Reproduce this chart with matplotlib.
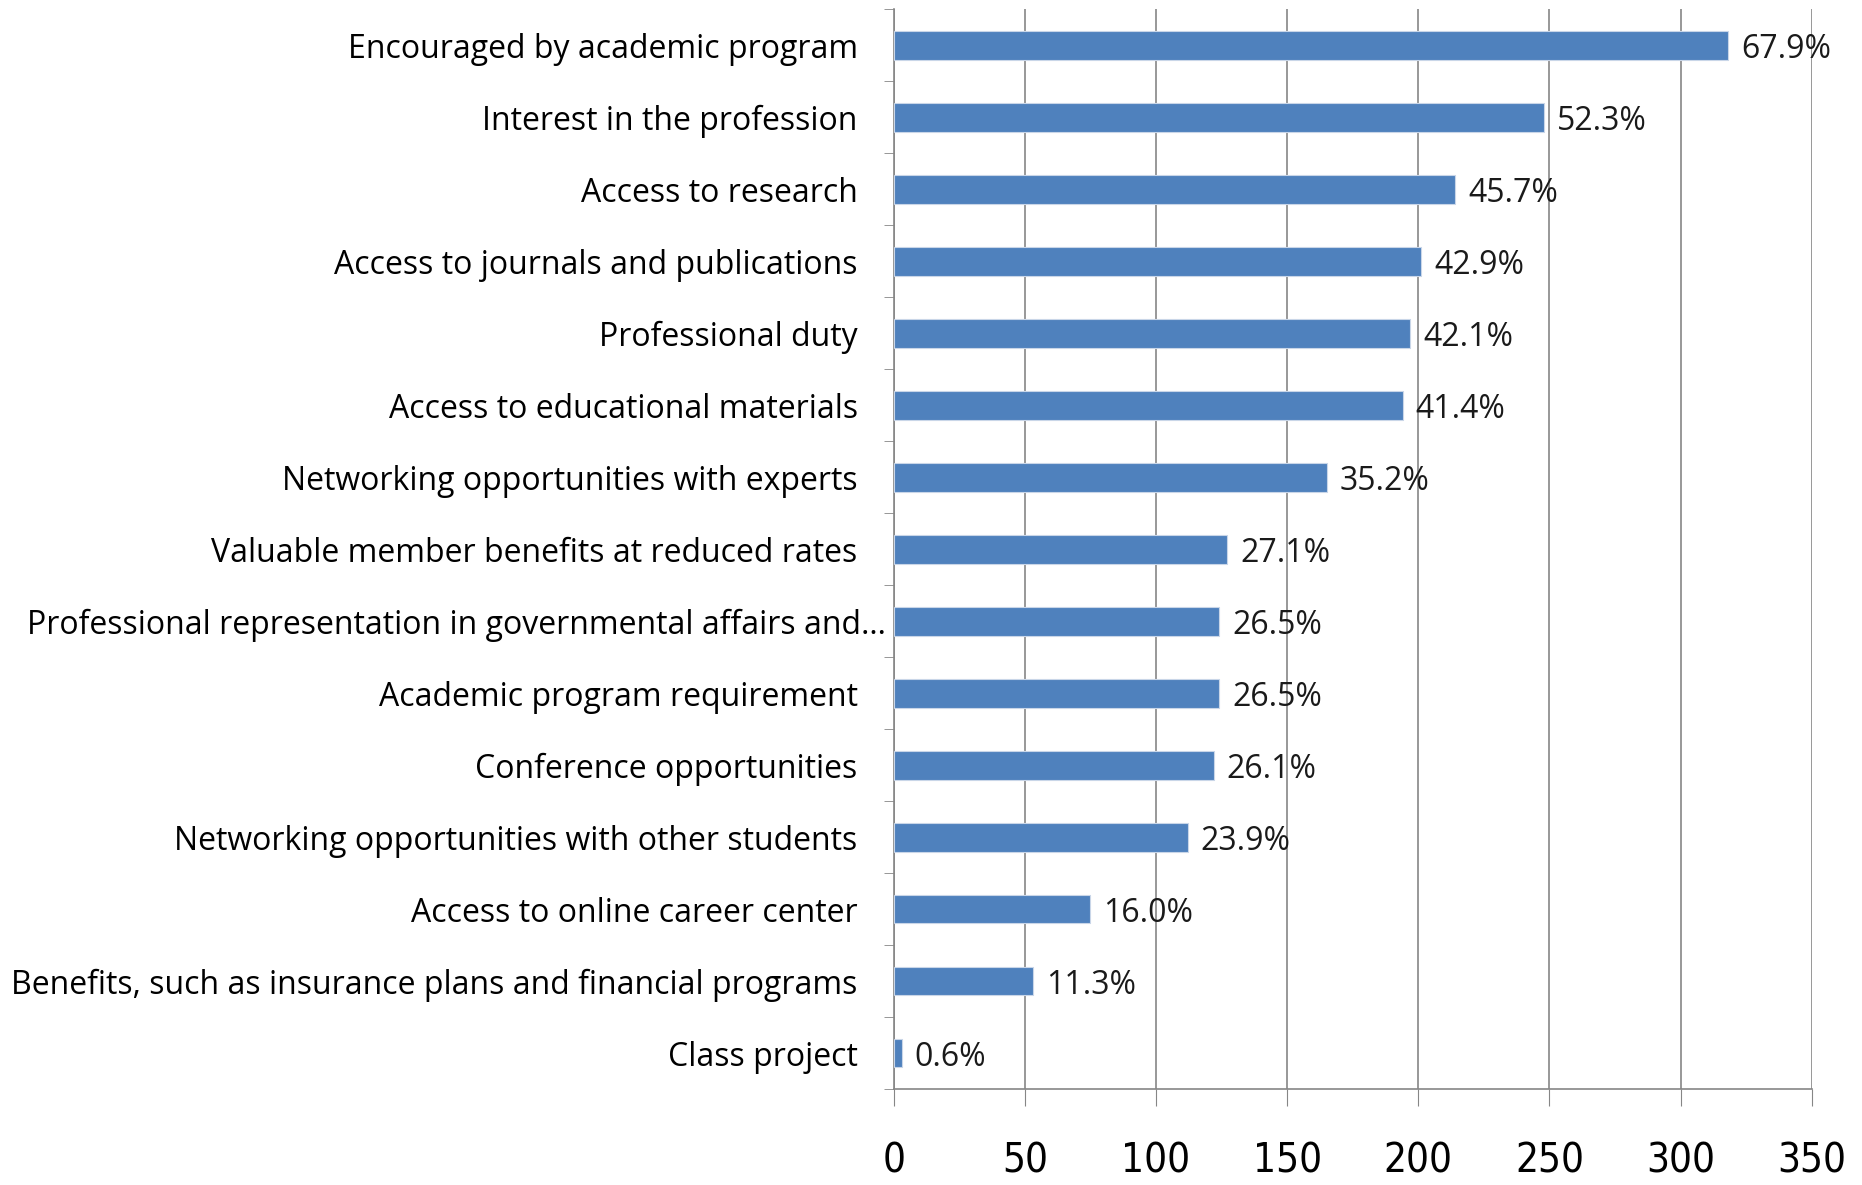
import matplotlib.pyplot as plt
import numpy as np

# Categories (top to bottom) with counts and shares
categories = [
    'Encouraged by academic program',
    'Interest in the profession',
    'Access to research',
    'Access to journals and publications',
    'Professional duty',
    'Access to educational materials',
    'Networking opportunities with experts',
    'Valuable member benefits at reduced rates',
    'Professional representation in governmental affairs and…',
    'Academic program requirement',
    'Conference opportunities',
    'Networking opportunities with other students',
    'Access to online career center',
    'Benefits, such as insurance plans and financial programs',
    'Class project',
]
counts = [318, 248, 214, 201, 197, 194, 165, 127, 124, 124, 122, 112, 75, 53, 3]
shares = ['67.9%', '52.3%', '45.7%', '42.9%', '42.1%', '41.4%', '35.2%', '27.1%',
          '26.5%', '26.5%', '26.1%', '23.9%', '16.0%', '11.3%', '0.6%']
x_ticks = [0, 50, 100, 150, 200, 250, 300, 350]

plt.rcParams['font.family'] = ['Open Sans', 'DejaVu Sans']

fig = plt.figure(figsize=(18.62, 11.85), dpi=100)
ax = fig.add_axes([0.48, 0.081, 0.493, 0.911])

y = np.arange(len(categories))
ax.barh(y, counts, height=0.4, color='#4F81BD', edgecolor='#C9D6E8', linewidth=0.8, zorder=3)

for yi, c, s in zip(y, counts, shares):
    ax.text(c + 5, yi + 0.06, s, va='center', ha='left', fontsize=23, color='#1a1a1a', zorder=4)

ax.set_ylim(len(categories) - 0.5, -0.5)
ax.set_xlim(0, 350)
ax.set_xticks(x_ticks)
ax.set_xticklabels([str(t) for t in x_ticks], fontsize=29, fontfamily='DejaVu Sans',
                   fontstretch='condensed')
ax.set_yticks(y)
ax.set_yticklabels(categories, fontsize=23)
ax.set_yticks(np.arange(len(categories) + 1) - 0.5, minor=True)

ax.tick_params(axis='y', which='major', length=0, pad=26)
ax.tick_params(axis='y', which='minor', length=7, color='#868686', direction='out')
ax.tick_params(axis='x', length=12, color='#868686', direction='out', pad=26)

# the truncated long label sits closer to the axis in the original
for lbl in ax.get_yticklabels():
    if lbl.get_text().endswith('…'):
        lbl.set_transform(lbl.get_transform() + plt.matplotlib.transforms.ScaledTranslation(0.28, 0, fig.dpi_scale_trans))

ax.grid(axis='x', color='#868686', linewidth=1.2, zorder=0)
for side in ['top', 'right']:
    ax.spines[side].set_visible(False)
for side in ['left', 'bottom']:
    ax.spines[side].set_color('#868686')
    ax.spines[side].set_linewidth(1.2)

fig.savefig('out.png', dpi=100, facecolor='white')
